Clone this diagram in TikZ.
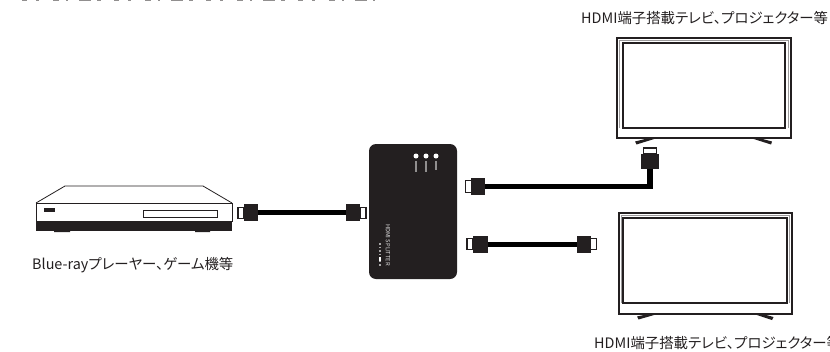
\documentclass[tikz,border=0pt]{standalone}
\usepackage{fontspec}
\setmainfont[RawFeature=+palt]{Noto Sans CJK JP}
\definecolor{ink}{HTML}{231F20}
\tikzset{
  x=1pt,y=-1pt,
  label text/.style={inner sep=0pt,text=ink,font=\fontsize{14.4}{16}\selectfont,anchor=west},
  plug body/.style={fill=ink,draw=none,inner sep=0pt,minimum width=14.5pt,minimum height=17pt},
  plug tip/.style={fill=white,draw=ink,line width=1.4pt,inner sep=0pt,minimum width=6pt,minimum height=11.5pt},
  cable/.style={draw=black,line width=5.5pt,line join=miter},
  tv frame/.style={draw=ink,line width=2pt,fill=white},
  tv screen/.style={draw=ink,line width=2.4pt,fill=white},
  tv rim/.style={draw=ink!45,line width=.6pt},
  foot/.style={fill=ink,draw=none},
  led/.style={circle,fill=white,draw=none,inner sep=0pt,minimum size=5pt},
  led tag/.style={draw=white!50!ink,line width=1.6pt},
}
\begin{document}
\begin{tikzpicture}
\useasboundingbox (0,0) rectangle (830,351);
% clipped remains of a sentence at the very top edge (unreadable in the reference)
\draw[draw=ink!50,line width=1.2pt,dash pattern=on 5pt off 9pt on 3pt off 14pt on 6pt off 7pt on 2pt off 11pt on 12pt off 6pt on 4pt off 13pt] (22,0.6) -- (375,0.6);

% player
\fill[white] (36,203) -- (65,186) -- (203,186) -- (232,203) -- cycle;
\draw[ink,line width=.8pt,line join=round] (36,203) -- (65,186) -- (203,186) -- (232,203);
\node[draw=ink,line width=.9pt,fill=white,inner sep=0pt,minimum width=196pt,minimum height=18pt] (playerfront) at (134,212.5) {};
\fill[ink] (36,221) rectangle (232,231);
\fill[ink] (54,231) rectangle (70,232.2) (195,231) rectangle (210,232.2);
\node[draw=ink,line width=.7pt,fill=white,inner sep=0pt,minimum width=74pt,minimum height=7pt] (slot) at (180,213.5) {};
\node[fill=ink,inner sep=0pt,minimum width=11pt,minimum height=4.5pt] (display) at (49.5,210) {};
\node[label text] (playerlabel) at (32,265) {Blue-rayプレーヤー、ゲーム機等};

% splitter
\node[fill=ink,rounded corners=7pt,inner sep=0pt,minimum width=88pt,minimum height=135pt] (splitter) at (413,211.5) {};
\node[led] (ledc) at (416,156) {};
\node[led] (ledb) at (426,156) {};
\node[led] (leda) at (436,156) {};
\draw[led tag] (416,161) -- (416,172);
\draw[led tag] (426,161) -- (426,172);
\draw[led tag] (436,161) -- (436,170);
\node[rotate=-90,inner sep=0pt,text=white!85!ink,font=\fontsize{5.8}{5}\selectfont] (brand) at (388,245) {HDMI SPLITTER};
\draw[draw=white!60!ink,line width=1.2pt,dash pattern=on 1.5pt off 2pt] (380,243) -- (380,266);
\fill[white] (378.8,257) rectangle (381.2,261);

% cable, player to splitter
\node[plug tip] (t1) at (241,213) {};
\node[plug body] (p1) at (251,212.5) {};
\node[plug body] (p2) at (353,212.5) {};
\node[plug tip] (t2) at (363,213) {};
\draw[cable] (p1) -- (p2);

% cable, splitter to upper TV
\node[plug tip] (t3) at (468.5,186.5) {};
\node[plug body] (p3) at (478,186.5) {};
\node[plug tip,minimum width=12.5pt,minimum height=6pt] (t4) at (650,151) {};
\node[plug body,minimum width=18pt,minimum height=15pt] (p4) at (650,161.5) {};
\coordinate (bend) at (650,186.5);
\draw[cable] (p3) -- (bend) -- (p4);

% cable, splitter to lower TV
\node[plug tip] (t5) at (470,244) {};
\node[plug body] (p5) at (480.5,244) {};
\node[plug body] (p6) at (584,244) {};
\node[plug tip] (t6) at (593.5,244) {};
\draw[cable,line width=5pt] (p5) -- (p6);

% upper TV
\node[tv frame,inner sep=0pt,minimum width=174pt,minimum height=100pt] (tvone) at (704,88) {};
\node[tv screen,inner sep=0pt,minimum width=162pt,minimum height=85pt] (screenone) at (704,85.5) {};
\draw[tv rim] (619.5,128) -- (619.5,40.5) -- (788.5,40.5) -- (788.5,128);
\fill[foot] (635,141.5) -- (651,137.5) -- (659,137.5) -- (636.5,144.5) -- cycle;
\fill[foot] (749,137.5) -- (757,137.5) -- (772,141.5) -- (771,144.5) -- cycle;
\node[label text] (labelone) at (581,18) {HDMI端子搭載テレビ、プロジェクター等};

% lower TV
\node[tv frame,inner sep=0pt,minimum width=173pt,minimum height=101pt] (tvtwo) at (705.5,263.5) {};
\node[tv screen,inner sep=0pt,minimum width=164pt,minimum height=85pt] (screentwo) at (705,260.5) {};
\draw[tv rim] (621,303) -- (621,215.5) -- (789.5,215.5) -- (789.5,303);
\fill[foot] (637,316.5) -- (653,313) -- (661,313) -- (638.5,319.5) -- cycle;
\fill[foot] (751,313) -- (759,313) -- (773.5,317) -- (772,320) -- cycle;
\clip (0,0) rectangle (830,351);
\node[label text] (labeltwo) at (594,343) {HDMI端子搭載テレビ、プロジェクター等};
\end{tikzpicture}
\end{document}
